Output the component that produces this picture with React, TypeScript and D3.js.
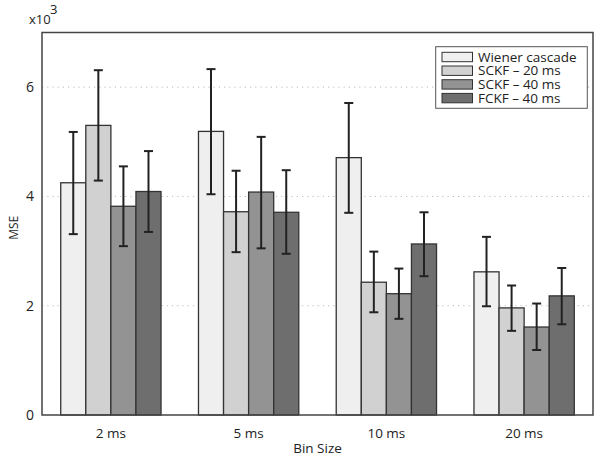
import React from "react";
import * as d3 from "d3";

const categories = ["2 ms", "5 ms", "10 ms", "20 ms"];
const seriesNames = ["Wiener cascade", "SCKF – 20 ms", "SCKF – 40 ms", "FCKF – 40 ms"];
const seriesColors = ["#efefef", "#d1d1d1", "#939393", "#6e6e6e"];
// values in units of 10^3
const meanValues = [
  [4.25, 5.19, 4.71, 2.62],
  [5.30, 3.72, 2.43, 1.96],
  [3.82, 4.08, 2.22, 1.61],
  [4.09, 3.71, 3.13, 2.18],
];
const errUpper = [
  [5.18, 6.33, 5.71, 3.26],
  [6.31, 4.47, 2.99, 2.37],
  [4.55, 5.09, 2.68, 2.04],
  [4.83, 4.48, 3.71, 2.69],
];
const errLower = [
  [3.31, 4.04, 3.70, 1.99],
  [4.29, 2.98, 1.88, 1.54],
  [3.09, 3.05, 1.76, 1.19],
  [3.35, 2.95, 2.54, 1.66],
];
const yTicks = [0, 2, 4, 6];
const gridTicks = [2, 4, 6];

const W = 600, H = 457;
const left = 42, right = 593, top = 32.5, bottom = 415;
const font = "'Open Sans', 'Noto Sans', sans-serif";

export default function App() {
  const x = d3.scaleBand<string>().domain(categories).range([left, right]).paddingInner(0).paddingOuter(0);
  const groupW = 100.3;
  const xs = d3.scaleBand<string>().domain(seriesNames).range([0, groupW]);
  const y = d3.scaleLinear().domain([0, 7]).range([bottom, top]);
  const cap = 4.5;

  return (
    <svg width={W} height={H} style={{ position: "absolute", left: 0, top: 0, background: "#fff" }}>
      <rect x={0} y={0} width={W} height={H} fill="#fff" />
      {gridTicks.map((t) => (
        <line key={t} x1={left} x2={right} y1={y(t)} y2={y(t)} stroke="#bbb" strokeWidth={1} strokeDasharray="1.2,4" />
      ))}
      {categories.map((c, ci) => {
        const gx = x(c)! + (x.bandwidth() - groupW) / 2;
        return (
          <g key={c}>
            {seriesNames.map((s, si) => {
              const bx = gx + xs(s)!;
              const bw = xs.bandwidth();
              const v = meanValues[si][ci];
              return (
                <rect key={s} x={bx} y={y(v)} width={bw} height={y(0) - y(v)} fill={seriesColors[si]} stroke="#333" strokeWidth={1.3} />
              );
            })}
            {seriesNames.map((s, si) => {
              const cx = gx + xs(s)! + xs.bandwidth() / 2;
              const hi = y(errUpper[si][ci]);
              const lo = y(errLower[si][ci]);
              return (
                <g key={s} stroke="#222" strokeWidth={2}>
                  <line x1={cx} x2={cx} y1={hi} y2={lo} />
                  <line x1={cx - cap} x2={cx + cap} y1={hi} y2={hi} />
                  <line x1={cx - cap} x2={cx + cap} y1={lo} y2={lo} />
                </g>
              );
            })}
          </g>
        );
      })}
      <rect x={left} y={top} width={right - left} height={bottom - top} fill="none" stroke="#444" strokeWidth={1.5} />
      {yTicks.map((t) => (
        <text key={t} x={left - 8} y={y(t)} dy="0.35em" textAnchor="end" fontFamily={font} fontSize={14} fill="#222">{t}</text>
      ))}
      <text x={29} y={24} fontFamily={font} fontSize={13} fill="#222">x10</text>
      <text x={50} y={14} fontFamily={font} fontSize={13} fill="#222">3</text>
      {categories.map((c) => (
        <text key={c} x={x(c)! + x.bandwidth() / 2} y={438} textAnchor="middle" fontFamily={font} fontSize={13.5} fill="#222">{c}</text>
      ))}
      <text x={(left + right) / 2} y={453} textAnchor="middle" fontFamily={font} fontSize={13.5} fill="#222">Bin Size</text>
      <text transform={`translate(18,${(top + bottom) / 2 + 4}) rotate(-90)`} textAnchor="middle" fontFamily={font} fontSize={12} fill="#222">MSE</text>
      <g>
        <rect x={435.7} y={46.7} width={151.6} height={61.6} fill="#fff" stroke="#555" strokeWidth={1} />
        {seriesNames.map((s, i) => (
          <g key={s}>
            <rect x={442} y={52.3 + i * 13.7} width={30.5} height={9.4} fill={seriesColors[i]} stroke="#333" strokeWidth={1} />
            <text x={478} y={57 + i * 13.7} dy="0.35em" fontFamily={font} fontSize={13.5} fill="#222">{s}</text>
          </g>
        ))}
      </g>
    </svg>
  );
}
